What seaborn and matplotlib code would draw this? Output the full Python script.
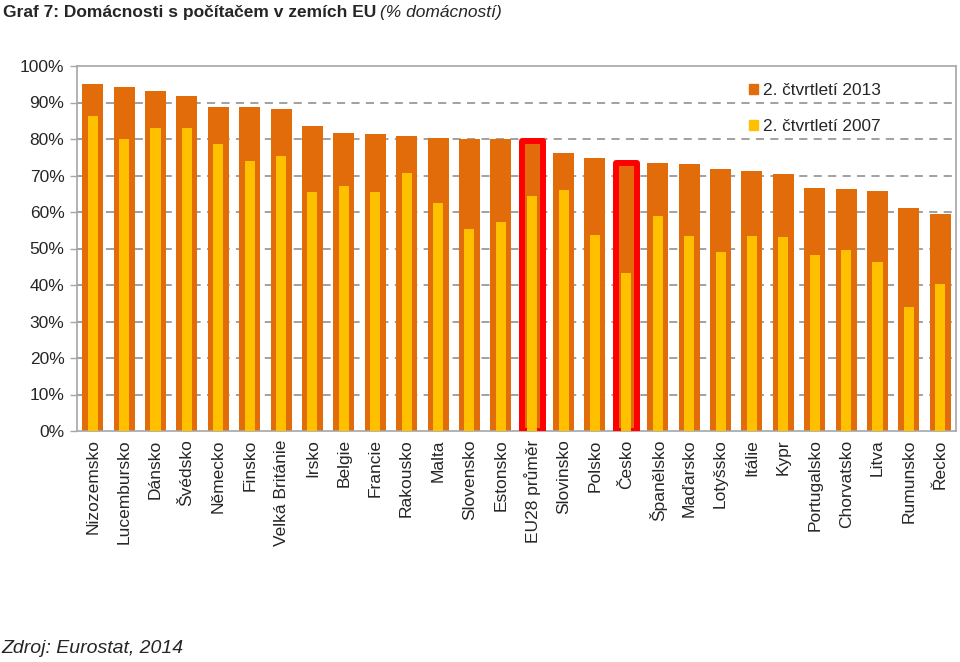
import matplotlib
matplotlib.use("Agg")
import matplotlib.pyplot as plt
import seaborn as sns
import pandas as pd
import numpy as np
from matplotlib.patches import Patch

countries = ["Nizozemsko", "Lucembursko", "Dánsko", "Švédsko", "Německo", "Finsko",
             "Velká Británie", "Irsko", "Belgie", "Francie", "Rakousko", "Malta",
             "Slovensko", "Estonsko", "EU28 průměr", "Slovinsko", "Polsko", "Česko",
             "Španělsko", "Maďarsko", "Lotyšsko", "Itálie", "Kypr", "Portugalsko",
             "Chorvatsko", "Litva", "Rumunsko", "Řecko"]
v2013 = [95.1, 94.2, 93.1, 91.9, 88.9, 88.7, 88.2, 83.6, 81.7, 81.5, 80.8, 80.2,
         80.0, 79.9, 79.4, 76.3, 74.7, 73.3, 73.3, 73.1, 71.7, 71.1, 70.3, 66.7,
         66.2, 65.8, 61.2, 59.5]
v2007 = [86.3, 79.9, 83.0, 82.9, 78.7, 74.0, 75.4, 65.5, 67.2, 65.6, 70.8, 62.6,
         55.4, 57.3, 64.3, 66.0, 53.7, 43.4, 58.9, 53.4, 49.1, 53.4, 53.1, 48.3,
         49.5, 46.3, 34.1, 40.2]
highlight = ["EU28 průměr", "Česko"]
label2013 = "2. čtvrtletí 2013"
label2007 = "2. čtvrtletí 2007"
yticks = [0, 10, 20, 30, 40, 50, 60, 70, 80, 90, 100]

ORANGE = "#E36C0A"
YELLOW = "#FFC000"
GRID = "#9A9A9A"

df = pd.DataFrame({"country": countries, "v2013": v2013, "v2007": v2007})

sns.set_style("white")
plt.rcParams["font.family"] = ["Liberation Sans", "DejaVu Sans"]

fig = plt.figure(figsize=(9.6, 6.62), dpi=100)
ax = fig.add_axes([77 / 960, 1 - 431 / 662, (956 - 77) / 960, (431 - 66) / 662])

sns.barplot(data=df, x="country", y="v2013", color=ORANGE, width=0.67,
            saturation=1, ax=ax, order=countries)
n13 = len(ax.patches)
sns.barplot(data=df, x="country", y="v2007", color=YELLOW, width=0.32,
            saturation=1, ax=ax, order=countries)

for p, c in zip(ax.patches[:n13], countries):
    p.set_edgecolor("none")
    if c in highlight:
        p.set_edgecolor("#FF0000")
        p.set_linewidth(4.3)
        p.set_joinstyle("round")
        p.set_zorder(3)
for p in ax.patches[n13:]:
    p.set_edgecolor("none")
    p.set_zorder(4)

ax.set_ylim(0, 100)
ax.set_xlim(-0.5, len(countries) - 0.5)
ax.set_yticks(yticks)
ax.set_yticklabels([f"{t}%" for t in yticks], fontsize=12.5)
ax.set_xticks(range(len(countries)))
ax.set_xticklabels(countries, rotation=90, fontsize=12.5)
ax.set_xlabel("")
ax.set_ylabel("")

ax.set_axisbelow(True)
for t in yticks[1:-1]:
    ax.axhline(t, color=GRID, lw=1.3, ls=(0, (4.5, 3.5)), zorder=0.5)

for s in ax.spines.values():
    s.set_visible(True)
    s.set_color("#A6A6A6")
    s.set_linewidth(1.2)

ax.tick_params(axis="x", which="major", length=0, pad=6)
ax.set_xticks(np.arange(-0.5, len(countries) + 0.5, 1), minor=True)
ax.tick_params(axis="x", which="minor", length=4, color="#A6A6A6", width=1)
ax.tick_params(axis="y", which="major", length=5, color="#A6A6A6", width=1, pad=4, left=True)

handles = [Patch(color=ORANGE, label=label2013), Patch(color=YELLOW, label=label2007)]
leg = ax.legend(handles=handles, loc="upper right", bbox_to_anchor=(0.932, 0.995),
                frameon=False, fontsize=12.4, handlelength=0.5, handleheight=0.5,
                handletextpad=0.3, labelspacing=1.2)

t1 = fig.text(0.003, 0.981, "Graf 7: Domácnosti s počítačem v zemích EU", fontsize=12.5,
              fontweight="bold", va="center", ha="left")
fig.canvas.draw()
bb = t1.get_window_extent()
fig.text(bb.x1 / fig.bbox.width + 0.004, 0.981, "(% domácností)", fontsize=12.5,
         fontstyle="italic", va="center", ha="left")
fig.text(0.001, 0.021, "Zdroj: Eurostat, 2014", fontsize=14, fontstyle="italic",
         va="center", ha="left")

fig.savefig("out.png", dpi=100)
